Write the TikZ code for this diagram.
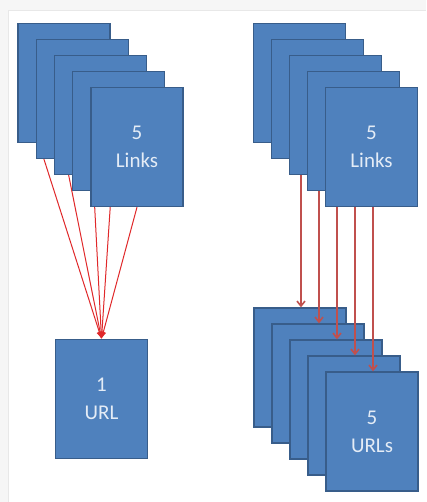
\documentclass[tikz,border=0pt]{standalone}
\usepackage{fontspec}
\setmainfont{Carlito}
\usepackage{tikz}
\usetikzlibrary{arrows.meta,calc,backgrounds}
\pgfdeclarelayer{wires}
\pgfsetlayers{background,wires,main}
\definecolor{sheetblue}{HTML}{4F81BD}
\definecolor{sheetedge}{HTML}{385D8A}
\definecolor{sheettext}{HTML}{E4ECF6}
\definecolor{linkred}{HTML}{E0282A}
\definecolor{urlred}{HTML}{C0504D}
\tikzset{
  sheet/.style={draw=sheetedge,fill=sheetblue,line width=1.3pt,minimum width=92pt,minimum height=119pt,
    inner sep=0pt,align=center,text=sheettext,font=\fontsize{21}{28}\selectfont},
  fan/.style={draw=linkred,line width=1pt,-{Latex[length=7pt,width=6pt]}},
  drop/.style={draw=urlred,line width=1.6pt,-{Straight Barb[length=5pt,width=8pt]}},
}
\begin{document}
\begin{tikzpicture}[x=1pt,y=-1pt]
\useasboundingbox (0,0) rectangle (426,502);
% left stack of links
\foreach \i in {1,...,5} {
  \node[sheet] (L\i) at ({64+18.25*(\i-1)},{83+16*(\i-1)}) {};
}
\node[sheet] at (L5) {5\\Links};
% right stack of links
\foreach \i in {1,...,5} {
  \node[sheet] (R\i) at ({299.5+18*(\i-1)},{83+16*(\i-1)}) {};
  \coordinate (r\i) at ($(R\i.south)+(1.5,0)$);
}
\node[sheet] at (R5) {5\\Links};
% page frame and url sheets at the bottom
\begin{scope}[on background layer]
\fill[gray!7] (0,0) rectangle (426,502);
\fill[white] (8,10) rectangle (426,502);
\draw[gray!18,line width=0.6pt] (8,502) -- (8,10) -- (426,10);
\node[sheet] (U) at (101.5,399) {1\\URL};
\foreach \i in {1,...,5} {
  \node[sheet] (S\i) at ({300+18*(\i-1)},{367.5+16*(\i-1)}) {};
}
\node[sheet] at (S5) {5\\URLs};
\end{scope}
% connectors between the two
\begin{pgfonlayer}{wires}
\foreach \i/\f in {1/0.23,2/0.32,3/0.42,4/0.42,5/0.5} {
  \draw[fan] ($(L\i.south west)!\f!(L\i.south east)$) -- (U.north);
}
\foreach \i in {1,...,5} {
  \draw[drop] (r\i) -- (r\i |- S\i.north);
}
\end{pgfonlayer}
\end{tikzpicture}
\end{document}
